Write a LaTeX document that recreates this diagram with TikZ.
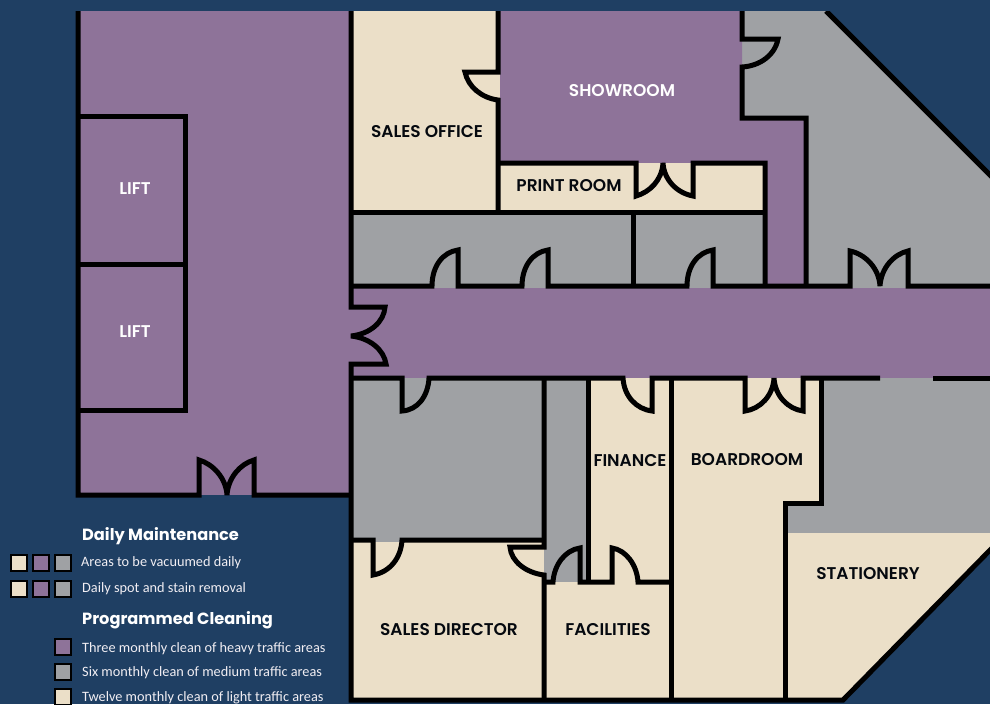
\documentclass[tikz,border=0pt]{standalone}
\usepackage{fontspec}
\setmainfont{Carlito}
\newfontfamily\roomfont{Poppins SemiBold}
\newfontfamily\headfont{Poppins}
\usepackage{tikz}
\definecolor{navy}{HTML}{1F3F63}
\definecolor{heavy}{HTML}{8E7399}
\definecolor{medium}{HTML}{9FA1A4}
\definecolor{light}{HTML}{EBDFC8}
\tikzset{
	wall/.style={draw=black, line width=5pt, miter limit=4},
	room/.style={font=\roomfont\fontsize{17}{18}\selectfont, text=black!85!navy, inner sep=0pt},
	swatch/.style={draw=black, line width=2.6pt},
	heading/.style={font=\headfont\bfseries\fontsize{16.2}{17}\selectfont, text=white, anchor=west, inner sep=0pt},
	entry/.style={font=\fontsize{14.3}{15}\selectfont, text=white!88!heavy, anchor=west, inner sep=0pt}
}
\begin{document}
\begin{tikzpicture}[x=1pt, y=-1pt]
	\useasboundingbox (0,0) rectangle (990,704);
	\draw[draw=none, fill=navy] (0,0) rectangle (990,704);
	% room fills
	\draw[draw=none, fill=heavy] (79,11) rectangle (352,495);
	\draw[draw=none, fill=medium] (742,11) -- (826,11) -- (995,180) -- (995,288) -- (765,288) -- (765,118) -- (742,118) -- cycle;
	\draw[draw=none, fill=light] (352,11) rectangle (500,212);
	\draw[draw=none, fill=heavy] (500,11) -- (742,11) -- (742,118) -- (806,118) -- (806,288) -- (765,288) -- (765,163) -- (500,163) -- cycle;
	\draw[draw=none, fill=light] (498,163) rectangle (765,212);
	\draw[draw=none, fill=medium] (352,212) rectangle (765,288);
	\draw[draw=none, fill=medium] (352,378) rectangle (545,542);
	\draw[draw=none, fill=medium] (544,378) rectangle (589,582);
	\draw[draw=none, fill=light] (352,542) rectangle (544,700);
	\draw[draw=none, fill=light] (544,582) rectangle (671,700);
	\draw[draw=none, fill=light] (589,378) rectangle (671,582);
	\draw[draw=none, fill=light] (671,378) -- (821,378) -- (821,503) -- (785,503) -- (785,700) -- (671,700) -- cycle;
	\draw[draw=none, fill=medium] (821,378) -- (995,378) -- (995,533) -- (785,533) -- (785,503) -- (821,503) -- cycle;
	\draw[draw=none, fill=light] (785,533) -- (995,533) -- (995,545) -- (843,700) -- (785,700) -- cycle;
	\draw[draw=none, fill=heavy] (352,288) rectangle (995,378);
	% outer walls and lifts
	\draw[wall] (78,11) -- (78,495) -- (199,495) -- (199,460) .. controls (213,464) and (226,478) .. (227,495) .. controls (228,478) and (240,464) .. (254,460) -- (254,495) -- (352,495);
	\draw[wall] (78,116) -- (185,116) -- (185,264) -- (78,264);
	\draw[wall] (185,264) -- (185,410) -- (78,410);
	\draw[wall] (351,11) -- (351,307) -- (385,307) .. controls (384,322) and (370,334) .. (351,336) .. controls (370,338) and (384,350) .. (386,364) -- (351,364) -- (351,700) -- (843,700) -- (995,545);
	\draw[wall] (826,11) -- (995,180);
	% north rooms
	\draw[wall] (498,11) -- (498,72) -- (465,72) .. controls (468,87) and (482,98) .. (498,100) -- (498,212);
	\draw[wall] (351,212) -- (765,212);
	\draw[wall] (498,163) -- (636,163) -- (636,196) .. controls (650,192) and (662,180) .. (663,163) .. controls (664,180) and (677,193) .. (693,196) -- (693,163) -- (765,163) -- (765,286);
	\draw[wall] (742,11) -- (742,39) -- (778,39) .. controls (775,55) and (760,66) .. (742,67) -- (742,118) -- (806,118) -- (806,286);
	\draw[wall] (633,212) -- (633,286);
	% corridor
	\draw[wall] (351,286) -- (432,286) .. controls (432,266) and (443,252) .. (458,250) -- (458,286) -- (522,286) .. controls (522,266) and (533,252) .. (548,250) -- (548,286) -- (687,286) .. controls (687,266) and (698,252) .. (713,250) -- (713,286) -- (850,286) -- (850,251) .. controls (865,254) and (879,268) .. (880,286) .. controls (881,268) and (894,254) .. (908,251) -- (908,286) -- (995,286);
	\draw[wall] (351,378) -- (402,378) -- (402,411) .. controls (418,410) and (428,396) .. (429,378) -- (623,378) .. controls (624,396) and (636,409) .. (652,411) -- (652,378) -- (745,378) -- (745,411) .. controls (760,409) and (773,396) .. (774,378) .. controls (775,396) and (788,409) .. (803,411) -- (803,378) -- (880,378);
	\draw[wall] (933,378) -- (995,378);
	% south rooms
	\draw[wall] (821,378) -- (821,503) -- (785,503) -- (785,700);
	\draw[wall] (671,378) -- (671,700);
	\draw[wall] (544,378) -- (544,547) -- (510,547) .. controls (511,562) and (527,573) .. (544,575) -- (544,700);
	\draw[wall] (351,540) -- (373,540) -- (373,575) .. controls (390,572) and (401,558) .. (402,540) -- (544,540);
	\draw[wall] (588,378) -- (588,582);
	\draw[wall] (544,582) -- (553,582) .. controls (554,565) and (565,550) .. (580,548) -- (580,582) -- (612,582) -- (612,548) .. controls (626,550) and (637,565) .. (638,582) -- (671,582);
	\draw[draw=none, fill=navy] (0,0) rectangle (990,11);
	% room labels
	\node[room, text=white] (lifta) at (135,189) {LIFT};
	\node[room, text=white] (liftb) at (135,332) {LIFT};
	\node[room] (salesoffice) at (427,132) {SALES OFFICE};
	\node[room, text=white] (showroom) at (622,91) {SHOWROOM};
	\node[room] (printroom) at (569,186) {PRINT ROOM};
	\node[room] (finance) at (630,461) {FINANCE};
	\node[room] (boardroom) at (747,460) {BOARDROOM};
	\node[room] (stationery) at (868,574) {STATIONERY};
	\node[room] (salesdirector) at (449,630) {SALES DIRECTOR};
	\node[room] (facilities) at (608,630) {FACILITIES};
	% legend
	\foreach \y in {563,589} {
		\draw[swatch, fill=light] (11,\y-8) rectangle ++(16,16);
		\draw[swatch, fill=heavy] (33,\y-8) rectangle ++(16,16);
		\draw[swatch, fill=medium] (55,\y-8) rectangle ++(16,16);
	}
	\draw[swatch, fill=heavy] (55,639) rectangle ++(16,16);
	\draw[swatch, fill=medium] (55,664) rectangle ++(16,16);
	\draw[swatch, fill=light] (55,689) rectangle ++(16,16);
	\node[heading] (daily) at (82,536) {Daily Maintenance};
	\node[entry] (vacuumed) at (81,563) {Areas to be vacuumed daily};
	\node[entry] (spot) at (82,589) {Daily spot and stain removal};
	\node[heading] (programmed) at (82,620) {Programmed Cleaning};
	\node[entry] (three) at (82,649) {Three monthly clean of heavy traffic areas};
	\node[entry] (six) at (82,673) {Six monthly clean of medium traffic areas};
	\node[entry] (twelve) at (82,698) {Twelve monthly clean of light traffic areas};
\end{tikzpicture}
\end{document}
